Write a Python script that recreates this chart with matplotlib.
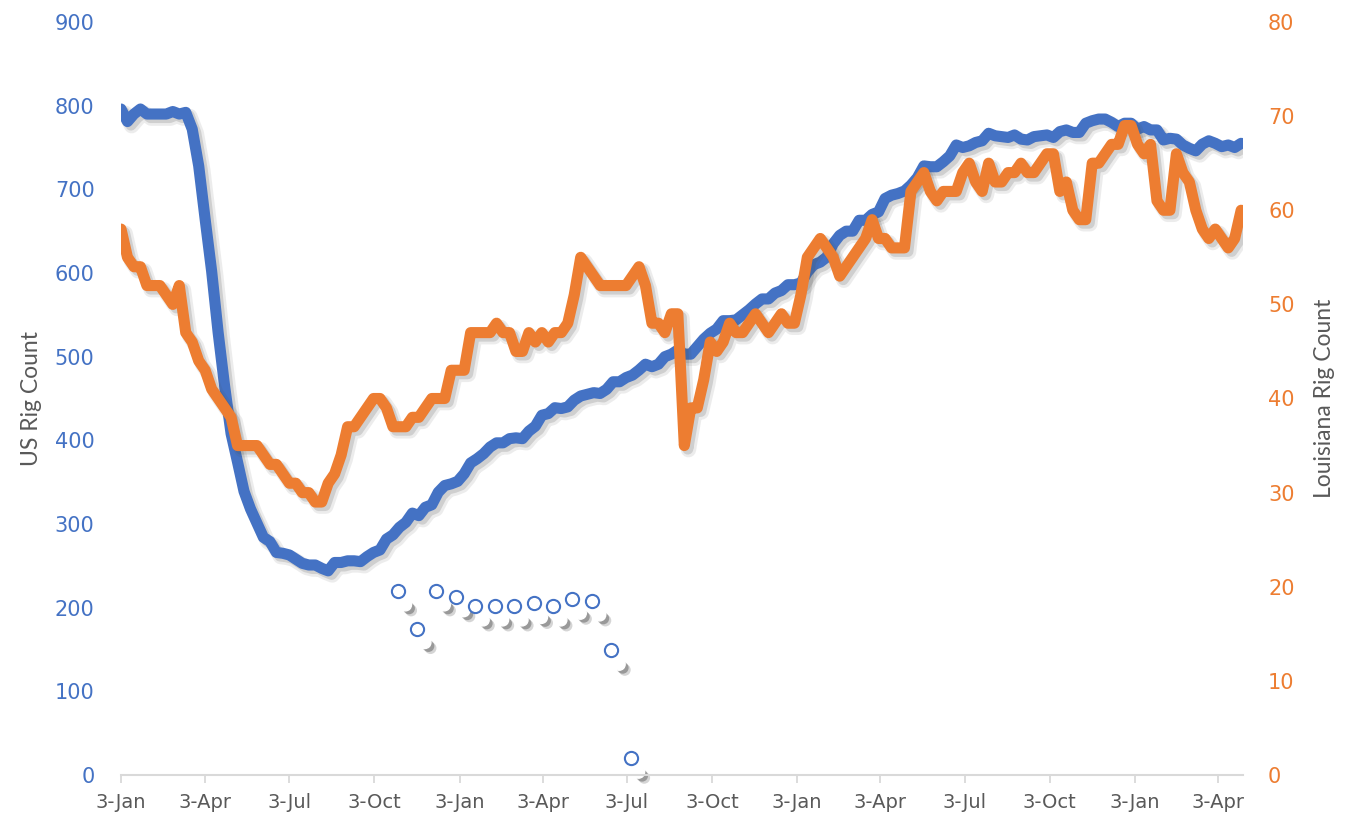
import matplotlib
matplotlib.use("Agg")
import matplotlib.pyplot as plt
import matplotlib.patheffects as pe
import matplotlib.transforms as mtransforms
import pandas as pd

# ---------------- data ----------------
week_start = "2020-01-03"
n_weeks = 174

us_rigs = [
    # 2020
    796, 781, 790, 796, 790, 790, 790, 790, 793, 790,
    792, 772, 728, 664, 602, 529, 465, 408, 374, 339,
    318, 301, 284, 279, 266, 265, 263, 258, 253, 251,
    251, 247, 244, 254, 254, 256, 256, 255, 261, 266,
    269, 282, 287, 296, 302, 313, 310, 320, 323, 338,
    346, 348, 351,
    # 2021
    360, 373, 378, 384, 392, 397, 397, 402, 403, 402,
    411, 417, 430, 432, 439, 438, 440, 448, 453, 455,
    457, 456, 461, 470, 470, 475, 478, 484, 491, 488,
    491, 500, 503, 508, 503, 503, 512, 521, 528, 533,
    543, 543, 544, 550, 556, 563, 569, 569, 576, 579,
    586, 586,
    # 2022
    588, 601, 610, 613, 619, 635, 645, 650, 650, 663,
    663, 670, 673, 689, 693, 695, 698, 705, 714, 728,
    727, 727, 733, 740, 753, 750, 752, 756, 758, 767,
    764, 763, 762, 765, 760, 759, 763, 764, 765, 762,
    769, 771, 768, 768, 779, 782, 784, 784, 780, 775,
    779, 779,
    # 2023
    772, 775, 771, 771, 759, 761, 760, 753, 749, 746,
    754, 758, 755, 751, 753, 750, 755,
]

la_rigs = [
    58, 55, 54, 54, 52, 52, 52, 51, 50, 52,
    47, 46, 44, 43, 41, 40, 39, 38, 35, 35,
    35, 35, 34, 33, 33, 32, 31, 31, 30, 30,
    29, 29, 31, 32, 34, 37, 37, 38, 39, 40,
    40, 39, 37, 37, 37, 38, 38, 39, 40, 40,
    40, 43, 43, 43, 47, 47, 47, 47, 48, 47,
    47, 45, 45, 47, 46, 47, 46, 47, 47, 48,
    51, 55, 54, 53, 52, 52, 52, 52, 52, 53,
    54, 52, 48, 48, 47, 49, 49, 35, 39, 39,
    42, 46, 45, 46, 48, 47, 47, 48, 49, 48,
    47, 48, 49, 48, 48, 51, 55, 56, 57, 56,
    55, 53, 54, 55, 56, 57, 59, 57, 57, 56,
    56, 56, 62, 63, 64, 62, 61, 62, 62, 62,
    64, 65, 63, 62, 65, 63, 63, 64, 64, 65,
    64, 64, 65, 66, 66, 62, 63, 60, 59, 59,
    65, 65, 66, 67, 67, 69, 69, 67, 66, 67,
    61, 60, 60, 66, 64, 63, 60, 58, 57, 58,
    57, 56, 57, 60,
]

# open-circle series on the primary axis (every 3 weeks)
circle_start = "2020-10-28"
circle_values = [220, 175, 220, 213, 202, 202, 202, 205, 202, 210, 208, 149, 20]

tick_dates = ["2020-01-03", "2020-04-03", "2020-07-03", "2020-10-03",
              "2021-01-03", "2021-04-03", "2021-07-03", "2021-10-03",
              "2022-01-03", "2022-04-03", "2022-07-03", "2022-10-03",
              "2023-01-03", "2023-04-03"]
tick_labels = ["3-Jan", "3-Apr", "3-Jul", "3-Oct",
               "3-Jan", "3-Apr", "3-Jul", "3-Oct",
               "3-Jan", "3-Apr", "3-Jul", "3-Oct",
               "3-Jan", "3-Apr"]

# ---------------- style ----------------
BLUE = "#4472C4"
ORANGE = "#ED7D31"
GRAY_TXT = "#595959"
AXIS_GRAY = "#D9D9D9"

plt.rcParams["font.family"] = ["DejaVu Sans"]

dates = pd.date_range(week_start, periods=n_weeks, freq="7D")
circle_dates = pd.date_range(circle_start, periods=len(circle_values), freq="21D")

fig = plt.figure(figsize=(13.64, 8.19), dpi=100)
fig.subplots_adjust(left=121 / 1364, right=1243 / 1364,
                    bottom=1 - 775 / 819, top=1 - 22 / 819)
ax = fig.add_subplot(111)
ax2 = ax.twinx()
ax2.set_zorder(ax.get_zorder() + 1)
ax2.patch.set_visible(False)

LW = 8.0
line_shadow = [
    pe.SimpleLineShadow(offset=(3, -3), shadow_color="0.3", alpha=0.10, linewidth=LW + 3),
    pe.SimpleLineShadow(offset=(2.5, -2.5), shadow_color="0.3", alpha=0.18, linewidth=LW),
    pe.Normal(),
]

ax.plot(dates, us_rigs, color=BLUE, lw=LW, solid_capstyle="round",
        solid_joinstyle="round", path_effects=line_shadow, zorder=3)
ax2.plot(dates, la_rigs, color=ORANGE, lw=LW, solid_capstyle="round",
         solid_joinstyle="round", path_effects=line_shadow, zorder=3)

# white shadowed dots, offset down-right of the circles
offset = mtransforms.ScaledTranslation(8 / 100, -14 / 100, fig.dpi_scale_trans)
ax.plot(circle_dates, circle_values, linestyle="none", marker="o", ms=8.5,
        mfc="white", mec="white", transform=ax.transData + offset,
        path_effects=[pe.SimplePatchShadow(offset=(4, -4), shadow_rgbFace="0.25", alpha=0.22),
                      pe.SimplePatchShadow(offset=(2.5, -2.5), shadow_rgbFace="0.25", alpha=0.4),
                      pe.Normal()],
        zorder=2, clip_on=False)
ax.plot(circle_dates, circle_values, linestyle="none", marker="o", ms=9.5,
        mfc="white", mec=BLUE, mew=1.5, zorder=4, clip_on=False)

# axes limits & ticks
ax.set_xlim(pd.Timestamp("2020-01-03"), pd.Timestamp("2023-04-30"))
ax.set_ylim(0, 900)
ax2.set_ylim(0, 80)
ax.set_yticks(range(0, 901, 100))
ax2.set_yticks(range(0, 81, 10))
ax.set_xticks(pd.to_datetime(tick_dates))
ax.set_xticklabels(tick_labels)

for a in (ax, ax2):
    for s in ("top", "left", "right"):
        a.spines[s].set_visible(False)
ax2.spines["bottom"].set_visible(False)
ax.spines["bottom"].set_color(AXIS_GRAY)
ax.spines["bottom"].set_linewidth(1.5)

ax.tick_params(axis="x", colors=AXIS_GRAY, length=6, width=1.3, pad=7,
               labelcolor=GRAY_TXT, labelsize=14)
ax.tick_params(axis="y", length=0, pad=19, labelcolor=BLUE, labelsize=15)
ax2.tick_params(axis="y", length=0, pad=18, labelcolor=ORANGE, labelsize=15)

ax.set_ylabel("US Rig Count", color=GRAY_TXT, fontsize=16.5, labelpad=9,
              family=["Lato", "DejaVu Sans"])
ax2.set_ylabel("Louisiana Rig Count", color=GRAY_TXT, fontsize=16.5, labelpad=14,
               family=["Lato", "DejaVu Sans"])

fig.savefig("out.png", dpi=100)
